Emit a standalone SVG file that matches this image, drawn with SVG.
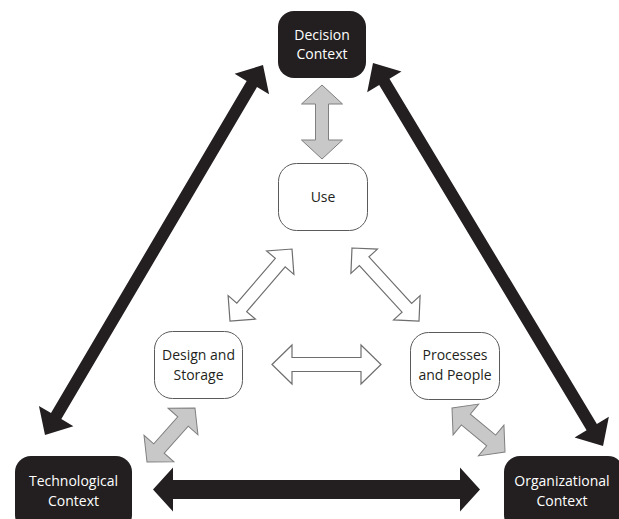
<svg xmlns="http://www.w3.org/2000/svg" width="619" height="519" viewBox="0 0 619 519">
<style>
  .dark rect { fill: #231f20; }
  .light rect { fill: #ffffff; stroke: #5a5a5a; stroke-width: 1; }
  text { font-family: "Open Sans", "Liberation Sans", sans-serif; font-size: 14px; text-anchor: middle; }
  .dark text { fill: #ffffff; }
  .light text { fill: #231f20; }
  .black { fill: #231f20; }
  .gray { fill: #c8c8c8; stroke: #7f7f7f; stroke-width: 1; stroke-linejoin: miter; }
  .white { fill: #ffffff; stroke: #6e6e6e; stroke-width: 1.2; stroke-linejoin: miter; }
</style>
<rect width="619" height="519" fill="#ffffff"/>
<g id="connectors">
  <polygon class="black" transform="translate(45,435) rotate(-59.49)" points="0,0 22,-20 22,-6 407.4,-6 407.4,-20 429.4,0 407.4,20 407.4,6 22,6 22,20"/>
  <polygon class="black" transform="translate(373,63) rotate(59.01)" points="0,0 22,-20 22,-6 424.8,-6 424.8,-20 446.8,0 424.8,20 424.8,6 22,6 22,20"/>
  <polygon class="black" transform="translate(153,489.5)" points="0,0 20,-22 20,-9.5 307,-9.5 307,-22 327,0 307,22 307,9.5 20,9.5 20,22"/>
  <polygon class="gray" transform="translate(322,85) rotate(90)" points="0,0 19,-20.5 19,-6.5 55,-6.5 55,-20.5 74,0 55,20.5 55,6.5 19,6.5 19,20.5"/>
  <polygon class="gray" transform="translate(147,462) rotate(-48.37)" points="0,0 18,-20 18,-7 54.2,-7 54.2,-20 72.2,0 54.2,20 54.2,7 18,7 18,20"/>
  <polygon class="gray" transform="translate(452,408) rotate(39.7)" points="0,0 18,-20 18,-7 50.9,-7 50.9,-20 68.9,0 50.9,20 50.9,7 18,7 18,20"/>
  <polygon class="white" transform="translate(230,321) rotate(-49.26)" points="0,0 18,-18 18,-6.5 77,-6.5 77,-18 95,0 77,18 77,6.5 18,6.5 18,18"/>
  <polygon class="white" transform="translate(352,248) rotate(47.46)" points="0,0 18,-18 18,-6.5 81.1,-6.5 81.1,-18 99.1,0 81.1,18 81.1,6.5 18,6.5 18,18"/>
  <polygon class="white" transform="translate(272,364.5)" points="0,0 20,-19.5 20,-7 89,-7 89,-19.5 109,0 89,19.5 89,7 20,7 20,19.5"/>
</g>
<g id="decision-context" class="dark">
  <rect x="278" y="11" width="88" height="67" rx="16"/>
  <text x="322" y="40">Decision</text>
  <text x="322" y="59">Context</text>
</g>
<g id="use" class="light">
  <rect x="278.5" y="163.5" width="89" height="67" rx="18"/>
  <text x="323" y="202">Use</text>
</g>
<g id="design-and-storage" class="light">
  <rect x="154.5" y="331.5" width="88" height="67" rx="18"/>
  <text x="198.5" y="360">Design and</text>
  <text x="198.5" y="380">Storage</text>
</g>
<g id="processes-and-people" class="light">
  <rect x="410.5" y="332.5" width="89" height="67" rx="18"/>
  <text x="455" y="360">Processes</text>
  <text x="455" y="380">and People</text>
</g>
<g id="technological-context" class="dark">
  <rect x="15" y="456" width="117" height="75" rx="16"/>
  <text x="73.5" y="486">Technological</text>
  <text x="73.5" y="506">Context</text>
</g>
<g id="organizational-context" class="dark">
  <rect x="504" y="456" width="120" height="75" rx="16"/>
  <text x="562" y="486">Organizational</text>
  <text x="562" y="506">Context</text>
</g>
</svg>
